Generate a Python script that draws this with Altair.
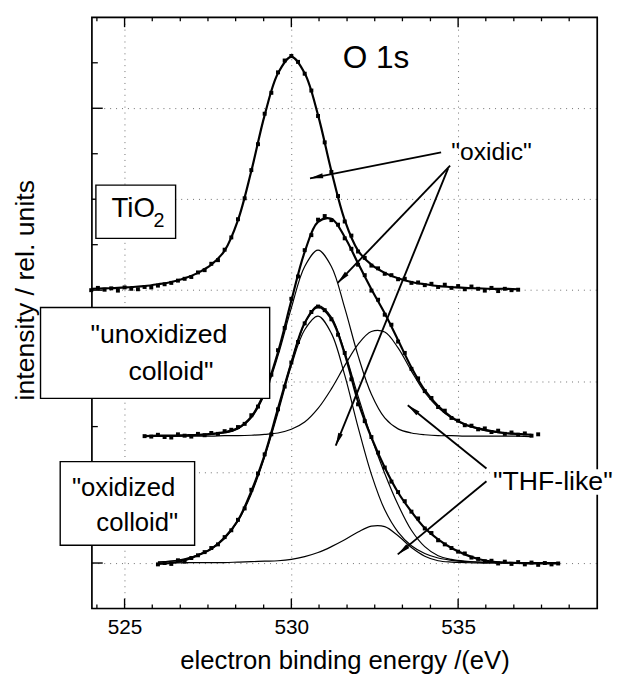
import math
import altair as alt
import pandas as pd

FONT = "Liberation Sans"
W, H = 512, 599
X_DOMAIN = [524.02, 539.17]
Y_DOMAIN = [0.0, 13.0]

X_TITLE = "electron binding energy /(eV)"
Y_TITLE = "intensity / rel. units"

# ---------------- axis ticks ----------------
X_LABEL_TICKS = [525, 530, 535]
X_MINOR_TICKS = [524.17, 525.83, 526.67, 527.5, 528.33, 529.17, 530.83, 531.67,
                 532.5, 533.33, 534.17, 535.83, 536.67, 537.5, 538.33]
Y_MAJOR_TICKS = [1, 3, 5, 7, 9, 11]
Y_MINOR_TICKS = [2, 4, 6, 8, 10, 12]

# ---------------- TiO2 spectrum ----------------
TIO2_DOT_X = [524.0, 524.2, 524.4, 524.6, 524.8, 525.0, 525.2, 525.4, 525.6, 525.8,
              526.0, 526.2, 526.4, 526.6, 526.8, 527.0, 527.2, 527.4, 527.6, 527.8,
              528.0, 528.2, 528.4, 528.6, 528.8, 529.0, 529.2, 529.4, 529.6, 529.8,
              530.0, 530.2, 530.4, 530.6, 530.8, 531.0, 531.2, 531.4, 531.6, 531.8,
              532.0, 532.2, 532.4, 532.6, 532.8, 533.0, 533.2, 533.4, 533.6, 533.8,
              534.0, 534.2, 534.4, 534.6, 534.8, 535.0, 535.2, 535.4, 535.6, 535.8,
              536.0, 536.2, 536.4, 536.6, 536.8]
TIO2_DOT_Y = [7.00, 7.05, 7.01, 7.04, 6.99, 7.06, 7.03, 7.02, 7.07, 7.06,
              7.10, 7.13, 7.16, 7.21, 7.25, 7.29, 7.39, 7.44, 7.58, 7.66,
              7.89, 8.16, 8.56, 9.02, 9.64, 10.21, 10.88, 11.34, 11.79, 12.05,
              12.15, 12.02, 11.76, 11.39, 10.83, 10.25, 9.60, 9.07, 8.51, 8.20,
              7.85, 7.71, 7.54, 7.48, 7.36, 7.33, 7.24, 7.25, 7.16, 7.17,
              7.11, 7.14, 7.07, 7.12, 7.05, 7.09, 7.02, 7.08, 7.03, 6.99,
              7.05, 6.98, 7.03, 7.00, 7.01]
TIO2_LINE_X = [524.0, 524.4, 524.8, 525.2, 525.6, 526.0, 526.4, 526.8, 527.2, 527.6,
               528.0, 528.4, 528.8, 529.2, 529.6, 530.0, 530.4, 530.8, 531.2, 531.6,
               532.0, 532.4, 532.8, 533.2, 533.6, 534.0, 534.4, 534.8, 535.2, 535.6,
               536.0, 536.4, 536.8]
TIO2_LINE_Y = [7.03, 7.04, 7.05, 7.07, 7.09, 7.13, 7.18, 7.26, 7.38, 7.56,
               7.87, 8.54, 9.62, 10.85, 11.77, 12.13, 11.77, 10.85, 9.62, 8.54,
               7.87, 7.56, 7.38, 7.26, 7.18, 7.13, 7.09, 7.07, 7.05, 7.04,
               7.03, 7.03, 7.02]

# ---------------- "unoxidized colloid" spectrum ----------------
UNOX_DOT_X = [525.6, 525.8,
              526.0, 526.2, 526.4, 526.6, 526.8, 527.0, 527.2, 527.4, 527.6, 527.8,
              528.0, 528.2, 528.4, 528.6, 528.8, 529.0, 529.2, 529.4, 529.6, 529.8,
              530.0, 530.2, 530.4, 530.6, 530.8, 531.0, 531.2, 531.4, 531.6, 531.8,
              532.0, 532.2, 532.4, 532.6, 532.8, 533.0, 533.2, 533.4, 533.6, 533.8,
              534.0, 534.2, 534.4, 534.6, 534.8, 535.0, 535.2, 535.4, 535.6, 535.8,
              536.0, 536.2, 536.4, 536.6, 536.8, 537.0, 537.2, 537.4]
UNOX_DOT_Y = [3.79, 3.78,
              3.82, 3.77, 3.76, 3.83, 3.80, 3.78, 3.84, 3.81, 3.86, 3.84,
              3.90, 3.93, 3.99, 4.06, 4.25, 4.44, 4.79, 5.14, 5.68, 6.17,
              6.81, 7.30, 7.88, 8.21, 8.55, 8.63, 8.54, 8.44, 8.14, 7.91,
              7.56, 7.33, 6.99, 6.79, 6.46, 6.24, 5.87, 5.62, 5.27, 5.06,
              4.78, 4.63, 4.43, 4.35, 4.19, 4.13, 4.03, 4.02, 3.94, 3.96,
              3.88, 3.91, 3.84, 3.87, 3.82, 3.85, 3.80, 3.83]
UNOX_LINE_X = [525.6, 526.0, 526.4, 526.8, 527.2, 527.6, 528.0, 528.4, 528.8, 529.2,
               529.6, 530.0, 530.4, 530.8, 531.2, 531.6, 532.0, 532.4, 532.8, 533.2,
               533.6, 534.0, 534.4, 534.8, 535.2, 535.6, 536.0, 536.4, 536.8, 537.2]
UNOX_TOTAL = [3.79, 3.80, 3.80, 3.81, 3.82, 3.84, 3.88, 3.97, 4.22, 4.76,
              5.64, 6.77, 7.84, 8.50, 8.57, 8.17, 7.59, 7.02, 6.49, 5.90,
              5.30, 4.80, 4.45, 4.21, 4.05, 3.96, 3.90, 3.86, 3.84, 3.82]
UNOX_OXIDIC = [3.79, 3.79, 3.79, 3.80, 3.81, 3.83, 3.86, 3.95, 4.19, 4.71,
               5.56, 6.61, 7.52, 7.88, 7.52, 6.61, 5.56, 4.71, 4.19, 3.95,
               3.86, 3.82, 3.80, 3.80, 3.79, 3.79, 3.79, 3.79, 3.79, 3.78]
UNOX_THF = [3.79, 3.79, 3.79, 3.79, 3.79, 3.79, 3.80, 3.80, 3.81, 3.83,
            3.86, 3.94, 4.10, 4.40, 4.83, 5.34, 5.81, 6.09, 6.08, 5.73,
            5.22, 4.75, 4.42, 4.19, 4.04, 3.95, 3.89, 3.85, 3.83, 3.82]

# ---------------- "oxidized colloid" spectrum ----------------
OX_DOT_X = [526.0, 526.2, 526.4, 526.6, 526.8, 527.0, 527.2, 527.4, 527.6, 527.8,
            528.0, 528.2, 528.4, 528.6, 528.8, 529.0, 529.2, 529.4, 529.6, 529.8,
            530.0, 530.2, 530.4, 530.6, 530.8, 531.0, 531.2, 531.4, 531.6, 531.8,
            532.0, 532.2, 532.4, 532.6, 532.8, 533.0, 533.2, 533.4, 533.6, 533.8,
            534.0, 534.2, 534.4, 534.6, 534.8, 535.0, 535.2, 535.4, 535.6, 535.8,
            536.0, 536.2, 536.4, 536.6, 536.8, 537.0, 537.2, 537.4, 537.6, 537.8,
            538.0]
OX_DOT_Y = [0.97, 1.00, 0.98, 1.06, 1.03, 1.11, 1.17, 1.24, 1.33, 1.41,
            1.57, 1.72, 1.95, 2.20, 2.61, 2.97, 3.39, 3.83, 4.38, 4.88,
            5.41, 5.86, 6.27, 6.52, 6.64, 6.56, 6.36, 6.02, 5.62, 5.04,
            4.49, 4.12, 3.77, 3.43, 3.10, 2.79, 2.56, 2.36, 2.13, 1.98,
            1.76, 1.66, 1.50, 1.41, 1.33, 1.25, 1.21, 1.12, 1.09, 1.04,
            1.05, 0.99, 1.03, 0.98, 1.02, 0.97, 1.01, 0.96, 1.00, 0.97,
            0.99]
OX_LINE_X = [526.0, 526.4, 526.8, 527.2, 527.6, 528.0, 528.4, 528.8, 529.2, 529.6,
             530.0, 530.4, 530.8, 531.2, 531.6, 532.0, 532.4, 532.8, 533.2, 533.6,
             534.0, 534.4, 534.8, 535.2, 535.6, 536.0, 536.4, 536.8, 537.2, 537.6,
             538.0]
OX_TOTAL = [0.98, 1.00, 1.06, 1.17, 1.31, 1.56, 1.94, 2.58, 3.38, 4.40,
            5.40, 6.28, 6.63, 6.37, 5.60, 4.55, 3.76, 3.10, 2.55, 2.13,
            1.77, 1.52, 1.33, 1.19, 1.09, 1.03, 1.01, 1.00, 0.99, 0.99,
            0.99]
OX_OXIDIC = [1.02, 1.04, 1.08, 1.17, 1.31, 1.54, 1.92, 2.52, 3.33, 4.31,
             5.34, 6.13, 6.43, 6.05, 5.13, 3.99, 2.95, 2.17, 1.68, 1.38,
             1.21, 1.11, 1.06, 1.03, 1.02, 1.01, 1.01, 1.01, 1.01, 1.00,
             1.00]
OX_THF = [1.00, 1.00, 1.01, 1.01, 1.01, 1.01, 1.02, 1.03, 1.04, 1.05,
          1.08, 1.14, 1.23, 1.36, 1.51, 1.68, 1.81, 1.80, 1.60, 1.34,
          1.15, 1.05, 1.02, 1.01, 1.00, 1.00, 1.00, 1.00, 1.00, 1.00,
          1.00]
OX_SUM = [1.02, 1.04, 1.09, 1.18, 1.32, 1.55, 1.94, 2.55, 3.37, 4.36,
          5.42, 6.27, 6.66, 6.41, 5.64, 4.67, 3.76, 2.97, 2.28, 1.72,
          1.36, 1.16, 1.08, 1.04, 1.02, 1.01, 1.01, 1.01, 1.01, 1.01,
          1.01]

# ---------------- annotations ----------------
LABEL_TEXT = ["O 1s", '"oxidic"', '"THF-like"', "TiO", "2",
              '"unoxidized', 'colloid"', '"oxidized', 'colloid"']
LABEL_X = [532.54, 536.00, 537.84, 525.26, 526.03, 526.03, 526.39, 524.97, 525.38]
LABEL_Y = [12.11, 10.03, 2.78, 8.79, 8.53, 6.01, 5.19, 2.65, 1.87]
LABEL_SIZE = [32, 25, 27, 28, 20, 27, 27, 26, 26]

BOX_X1 = [524.14, 522.48, 523.07]
BOX_X2 = [526.53, 529.35, 527.10]
BOX_Y1 = [9.31, 6.62, 3.23]
BOX_Y2 = [8.14, 4.62, 1.39]

# white patch behind "THF-like" (it overlaps the frame)
PATCH_X1, PATCH_X2, PATCH_Y1, PATCH_Y2 = [535.97], [539.67], [3.06], [2.50]

ARROW_X1 = [534.49, 534.76, 534.70, 535.85, 535.85]
ARROW_Y1 = [10.03, 9.74, 9.68, 3.08, 2.80]
ARROW_X2 = [530.56, 531.39, 531.33, 533.49, 533.19]
ARROW_Y2 = [9.46, 7.16, 3.58, 4.47, 1.19]

# ---------------- build chart ----------------
xscale = alt.Scale(domain=X_DOMAIN, nice=False, zero=False)
yscale = alt.Scale(domain=Y_DOMAIN, nice=False, zero=False)

xaxis = alt.Axis(values=X_LABEL_TICKS, format="d", grid=True, gridColor="#6e6e6e",
                 gridDash=[1, 5], gridWidth=1, ticks=False, tickSize=0, domain=False,
                 labelFont=FONT, labelFontSize=21, labelColor="black", labelPadding=8,
                 title=X_TITLE, titleFont=FONT, titleFontSize=26, titleFontWeight="normal",
                 titleColor="black", titleY=53, titleBaseline="middle")
yaxis = alt.Axis(values=Y_MAJOR_TICKS, grid=True, gridColor="#6e6e6e", gridDash=[1, 5],
                 gridWidth=1, labels=False, ticks=False, tickSize=0, domain=False,
                 title=Y_TITLE, titleFont=FONT, titleFontSize=27, titleFontWeight="normal",
                 titleColor="black", titleX=-67, titleY=276, titleAngle=270,
                 titleBaseline="middle")


def X(f):
    return alt.X(f"{f}:Q", scale=xscale, axis=xaxis)


def Y(f):
    return alt.Y(f"{f}:Q", scale=yscale, axis=yaxis)


def frame(xv, yv, name):
    return pd.DataFrame({"x": xv, "y": yv, "curve": name})


dots = pd.concat([frame(TIO2_DOT_X, TIO2_DOT_Y, "tio2"),
                  frame(UNOX_DOT_X, UNOX_DOT_Y, "unox"),
                  frame(OX_DOT_X, OX_DOT_Y, "ox")])
thick = pd.concat([frame(TIO2_LINE_X, TIO2_LINE_Y, "tio2"),
                   frame(UNOX_LINE_X, UNOX_TOTAL, "unox"),
                   frame(OX_LINE_X, OX_TOTAL, "ox")])
thin = pd.concat([frame(UNOX_LINE_X, UNOX_OXIDIC, "u_ox"),
                  frame(UNOX_LINE_X, UNOX_THF, "u_thf"),
                  frame(OX_LINE_X, OX_OXIDIC, "o_ox"),
                  frame(OX_LINE_X, OX_THF, "o_thf"),
                  frame(OX_LINE_X, OX_SUM, "o_sum")])

px_per_x = W / (X_DOMAIN[1] - X_DOMAIN[0])
px_per_y = H / (Y_DOMAIN[1] - Y_DOMAIN[0])
angles = []
for x1, y1, x2, y2 in zip(ARROW_X1, ARROW_Y1, ARROW_X2, ARROW_Y2):
    dxp = (x2 - x1) * px_per_x
    dyp = -(y2 - y1) * px_per_y
    angles.append(math.degrees(math.atan2(dxp, -dyp)) % 360)
arrows = pd.DataFrame({"x1": ARROW_X1, "y1": ARROW_Y1, "x2": ARROW_X2,
                       "y2": ARROW_Y2, "ang": angles})

labels = pd.DataFrame({"x": LABEL_X, "y": LABEL_Y, "t": LABEL_TEXT, "fs": LABEL_SIZE})
boxes = pd.DataFrame({"x1": BOX_X1, "x2": BOX_X2, "y1": BOX_Y1, "y2": BOX_Y2})
patch = pd.DataFrame({"x1": PATCH_X1, "x2": PATCH_X2, "y1": PATCH_Y1, "y2": PATCH_Y2})

thin_layer = alt.Chart(thin).mark_line(interpolate="catmull-rom", strokeWidth=1.2,
                                       color="black").encode(
    x=X("x"), y=Y("y"), detail="curve:N")
thick_layer = alt.Chart(thick).mark_line(interpolate="catmull-rom", strokeWidth=2.2,
                                         color="black").encode(
    x=X("x"), y=Y("y"), detail="curve:N")
dot_layer = alt.Chart(dots).mark_square(size=16, color="black", opacity=1).encode(
    x=X("x"), y=Y("y"))

one = pd.DataFrame({"a": [0]})
frame_layer = alt.Chart(one).mark_rect(fillOpacity=0, stroke="black", strokeWidth=1.7).encode(
    x=alt.value(0), x2=alt.value(W), y=alt.value(0), y2=alt.value(H))


def xticks(values, length, width):
    d = pd.DataFrame({"v": values})
    bottom = alt.Chart(d).mark_rule(color="black", strokeWidth=width).encode(
        x=X("v"), y=alt.value(H), y2=alt.value(H - length))
    top = alt.Chart(d).mark_rule(color="black", strokeWidth=width).encode(
        x=X("v"), y=alt.value(0), y2=alt.value(length))
    return [bottom, top]


def yticks(values, length, width):
    d = pd.DataFrame({"v": values})
    left = alt.Chart(d).mark_rule(color="black", strokeWidth=width).encode(
        y=Y("v"), x=alt.value(0), x2=alt.value(length))
    return [left]


tick_layers = (xticks(X_LABEL_TICKS, 10, 1.4) + xticks(X_MINOR_TICKS, 4, 1.3)
               + yticks(Y_MAJOR_TICKS, 11, 1.4) + yticks(Y_MINOR_TICKS, 6, 1.3))

box_layer = alt.Chart(boxes).mark_rect(fill="white", stroke="black", strokeWidth=1.4).encode(
    x=X("x1"), x2=alt.X2("x2"), y=Y("y1"), y2=alt.Y2("y2"))
patch_layer = alt.Chart(patch).mark_rect(fill="white", strokeWidth=0).encode(
    x=X("x1"), x2=alt.X2("x2"), y=Y("y1"), y2=alt.Y2("y2"))

shaft_layer = alt.Chart(arrows).mark_rule(color="black", strokeWidth=1.9).encode(
    x=X("x1"), y=Y("y1"), x2=alt.X2("x2"), y2=alt.Y2("y2"))
head_layer = alt.Chart(arrows).mark_point(
    shape="M0,0 L0.42,2.2 L-0.42,2.2 Z", filled=True, size=144, color="black",
    opacity=1, strokeWidth=0).encode(
    x=X("x2"), y=Y("y2"), angle=alt.Angle("ang:Q", scale=None))

text_layer = alt.Chart(labels).mark_text(font=FONT, align="center", baseline="middle",
                                         color="black").encode(
    x=X("x"), y=Y("y"), text="t:N", size=alt.Size("fs:Q", scale=None))

chart = alt.layer(
    thin_layer, thick_layer, dot_layer, frame_layer, *tick_layers,
    box_layer, shaft_layer, head_layer, patch_layer, text_layer
).properties(
    width=W, height=H,
    autosize=alt.AutoSizeParams(type="none"),
    padding={"left": 85, "top": 5, "right": 16, "bottom": 67},
).configure_view(strokeWidth=0).configure(background="white")

chart.save("out.html", embed_options={"renderer": "svg", "actions": False})
